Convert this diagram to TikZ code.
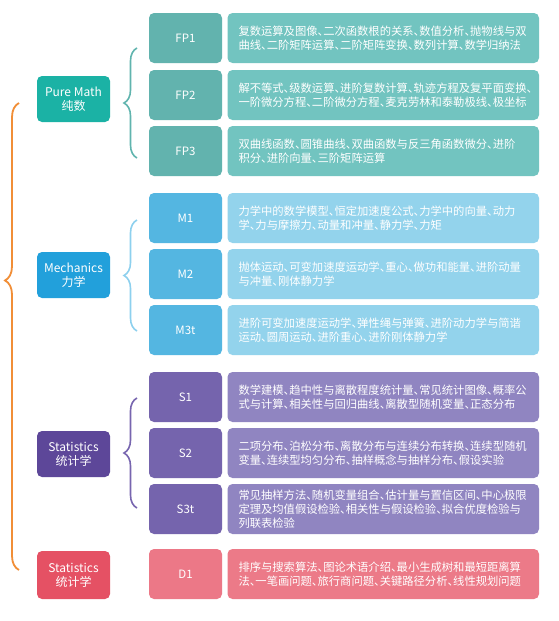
\documentclass[tikz,border=0pt]{standalone}
\usepackage{fontspec}
\setmainfont{Noto Sans CJK SC}[RawFeature=+halt]
\usetikzlibrary{decorations.pathreplacing}
\definecolor{pmCat}{HTML}{1BB2A5}
\definecolor{pmCode}{HTML}{62B3AE}
\definecolor{pmDesc}{HTML}{72C4C0}
\definecolor{pmBrace}{HTML}{60B4AE}
\definecolor{meCat}{HTML}{22A0DB}
\definecolor{meCode}{HTML}{54B6E1}
\definecolor{meDesc}{HTML}{93D3EC}
\definecolor{meBrace}{HTML}{8DD0EE}
\definecolor{stCat}{HTML}{5D4799}
\definecolor{stCode}{HTML}{7564AD}
\definecolor{stDesc}{HTML}{9085C1}
\definecolor{stBrace}{HTML}{7765AF}
\definecolor{dCat}{HTML}{E55164}
\definecolor{dCode}{HTML}{EC7887}
\definecolor{dDesc}{HTML}{EC7A88}
\definecolor{orangeBrace}{HTML}{F18E37}
\begin{document}
\begin{tikzpicture}[x=1pt,y=-1pt,
  catbox/.style={rounded corners=5pt, text=white, align=center, inner sep=0pt,
    minimum width=73pt, minimum height=46pt, font=\fontsize{12}{14}\selectfont},
  codebox/.style={rounded corners=5pt, text=white, inner sep=0pt,
    minimum width=73pt, minimum height=50pt, font=\fontsize{11.5}{14}\selectfont},
  descbox/.style={rounded corners=5pt, text=white, align=left, inner xsep=11pt, inner ysep=0pt,
    text width=289.5pt, minimum height=50pt, font=\fontsize{11.3}{13.8}\selectfont},
  bracel/.style={decorate, decoration={brace, amplitude=13pt}, line width=1.6pt},
]
\useasboundingbox[fill=white] (0,0) rectangle (558,621);

% categories
\node[catbox, fill=pmCat] (pm) at (73.5,99) {Pure Math\\纯数};
\node[catbox, fill=meCat] (me) at (73.5,275) {Mechanics\\力学};
\node[catbox, fill=stCat] (st) at (73.5,454) {Statistics\\统计学};
\node[catbox, fill=dCat, minimum height=48pt] (dm) at (73.5,575) {Statistics\\统计学};

% code boxes
\node[codebox, fill=pmCode] (fp1) at (185.5,38) {FP1};
\node[codebox, fill=pmCode] (fp2) at (185.5,95) {FP2};
\node[codebox, fill=pmCode] (fp3) at (185.5,151) {FP3};
\node[codebox, fill=meCode] (m1) at (185.5,218) {M1};
\node[codebox, fill=meCode] (m2) at (185.5,274) {M2};
\node[codebox, fill=meCode] (m3) at (185.5,330) {M3t};
\node[codebox, fill=stCode] (s1) at (185.5,397) {S1};
\node[codebox, fill=stCode] (s2) at (185.5,453) {S2};
\node[codebox, fill=stCode] (s3) at (185.5,509) {S3t};
\node[codebox, fill=dCode] (d1) at (185.5,574) {D1};

% description boxes
\node[descbox, fill=pmDesc] (fp1d) at (383.25,38) {复数运算及图像、二次函数根的关系、数值分析、抛物线与双\\曲线、二阶矩阵运算、二阶矩阵变换、数列计算、数学归纳法};
\node[descbox, fill=pmDesc] (fp2d) at (383.25,95) {解不等式、级数运算、进阶复数计算、轨迹方程及复平面变换、\\一阶微分方程、二阶微分方程、麦克劳林和泰勒极线、极坐标};
\node[descbox, fill=pmDesc] (fp3d) at (383.25,151) {双曲线函数、圆锥曲线、双曲函数与反三角函数微分、进阶\\积分、进阶向量、三阶矩阵运算};
\node[descbox, fill=meDesc] (m1d) at (383.25,218) {力学中的数学模型、恒定加速度公式、力学中的向量、动力\\学、力与摩擦力、动量和冲量、静力学、力矩};
\node[descbox, fill=meDesc] (m2d) at (383.25,274) {抛体运动、可变加速度运动学、重心、做功和能量、进阶动量\\与冲量、刚体静力学};
\node[descbox, fill=meDesc] (m3d) at (383.25,330) {进阶可变加速度运动学、弹性绳与弹簧、进阶动力学与简谐\\运动、圆周运动、进阶重心、进阶刚体静力学};
\node[descbox, fill=stDesc] (s1d) at (383.25,397) {数学建模、趋中性与离散程度统计量、常见统计图像、概率公\\式与计算、相关性与回归曲线、离散型随机变量、正态分布};
\node[descbox, fill=stDesc] (s2d) at (383.25,453) {二项分布、泊松分布、离散分布与连续分布转换、连续型随机\\变量、连续型均匀分布、抽样概念与抽样分布、假设实验};
\node[descbox, fill=stDesc] (s3d) at (383.25,509) {常见抽样方法、随机变量组合、估计量与置信区间、中心极限\\定理及均值假设检验、相关性与假设检验、拟合优度检验与\\列联表检验};
\node[descbox, fill=dDesc] (d1d) at (383.25,574) {排序与搜索算法、图论术语介绍、最小生成树和最短距离算\\法、一笔画问题、旅行商问题、关键路径分析、线性规划问题};

% braces
\coordinate (pmB1) at (137,158); \coordinate (pmB2) at (137,48);
\coordinate (meB1) at (137,331); \coordinate (meB2) at (137,220);
\coordinate (stB1) at (137,508); \coordinate (stB2) at (137,398);
\coordinate (orB1) at (19,570);  \coordinate (orB2) at (19,103);
\draw[bracel, draw=pmBrace] (pmB1) -- (pmB2);
\draw[bracel, draw=meBrace] (meB1) -- (meB2);
\draw[bracel, draw=stBrace] (stB1) -- (stB2);
\draw[decorate, decoration={brace, amplitude=14pt, aspect=0.62}, line width=1.8pt, draw=orangeBrace] (orB1) -- (orB2);
\end{tikzpicture}
\end{document}
